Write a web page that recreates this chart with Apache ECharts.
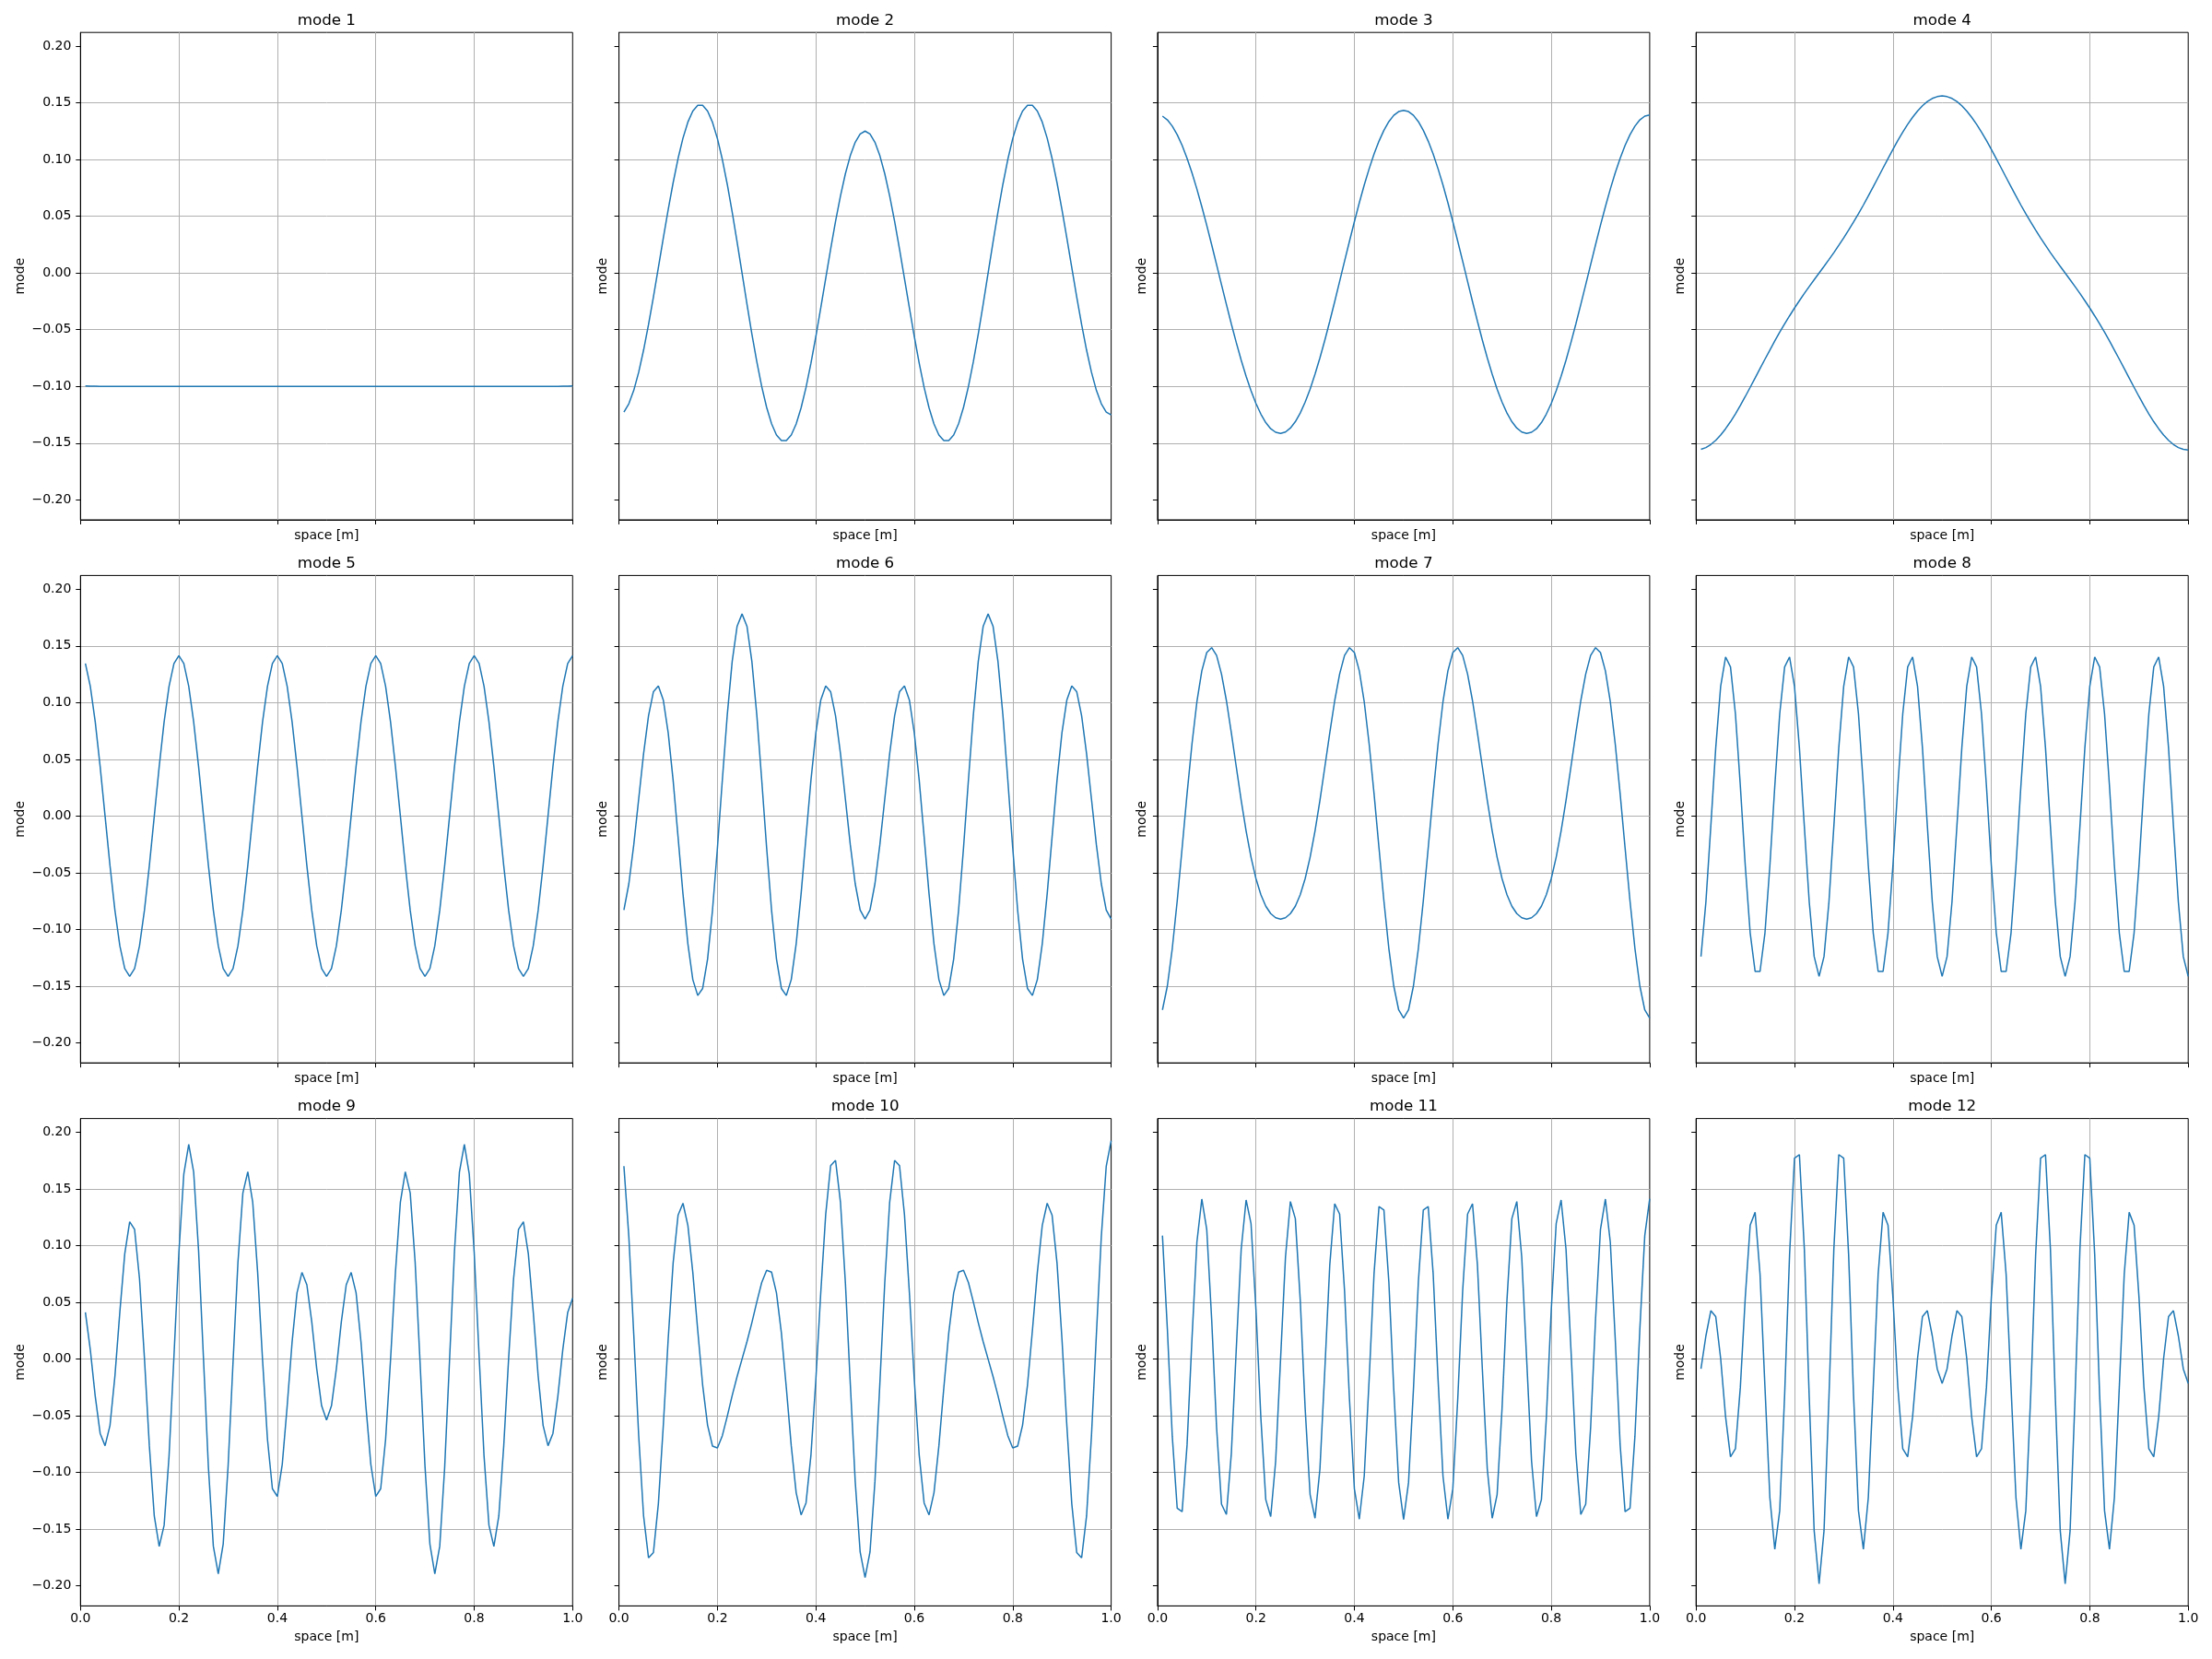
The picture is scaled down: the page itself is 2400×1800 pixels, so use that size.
<!DOCTYPE html>
<html><head><meta charset="utf-8">
<script src="https://cdn.jsdelivr.net/npm/echarts@6/dist/echarts.min.js"></script>
<style>html,body{margin:0;padding:0;background:#fff}#c{width:2400px;height:1800px}</style>
</head><body><div id="c"></div>
<script>
const xs = [
0.01,0.02,0.03,0.04,0.05,0.06,0.07,0.08,0.09,0.10,
0.11,0.12,0.13,0.14,0.15,0.16,0.17,0.18,0.19,0.20,
0.21,0.22,0.23,0.24,0.25,0.26,0.27,0.28,0.29,0.30,
0.31,0.32,0.33,0.34,0.35,0.36,0.37,0.38,0.39,0.40,
0.41,0.42,0.43,0.44,0.45,0.46,0.47,0.48,0.49,0.50,
0.51,0.52,0.53,0.54,0.55,0.56,0.57,0.58,0.59,0.60,
0.61,0.62,0.63,0.64,0.65,0.66,0.67,0.68,0.69,0.70,
0.71,0.72,0.73,0.74,0.75,0.76,0.77,0.78,0.79,0.80,
0.81,0.82,0.83,0.84,0.85,0.86,0.87,0.88,0.89,0.90,
0.91,0.92,0.93,0.94,0.95,0.96,0.97,0.98,0.99,1.00];

const mode1 = [
-0.0995,-0.0997,-0.0998,-0.0999,-0.1,-0.1,-0.1,-0.1,-0.1,-0.1,
-0.1,-0.1,-0.1,-0.1,-0.1,-0.1,-0.1,-0.1,-0.1,-0.1,
-0.1,-0.1,-0.1,-0.1,-0.1,-0.1,-0.1,-0.1,-0.1,-0.1,
-0.1,-0.1,-0.1,-0.1,-0.1,-0.1,-0.1,-0.1,-0.1,-0.1,
-0.1,-0.1,-0.1,-0.1,-0.1,-0.1,-0.1,-0.1,-0.1,-0.1,
-0.1,-0.1,-0.1,-0.1,-0.1,-0.1,-0.1,-0.1,-0.1,-0.1,
-0.1,-0.1,-0.1,-0.1,-0.1,-0.1,-0.1,-0.1,-0.1,-0.1,
-0.1,-0.1,-0.1,-0.1,-0.1,-0.1,-0.1,-0.1,-0.1,-0.1,
-0.1,-0.1,-0.1,-0.1,-0.1,-0.1,-0.1,-0.1,-0.1,-0.1,
-0.1,-0.1,-0.1,-0.1,-0.1,-0.1,-0.0999,-0.0998,-0.0997,-0.0995];

const mode2 = [
-0.1226,-0.1153,-0.1035,-0.0875,-0.0679,-0.0455,-0.0210,0.0048,0.0307,0.0559,
0.0796,0.1009,0.1189,0.1331,0.1428,0.1478,0.1478,0.1428,0.1329,0.1185,
0.1001,0.0782,0.0537,0.0273,0,-0.0273,-0.0537,-0.0782,-0.1001,-0.1185,
-0.1329,-0.1428,-0.1478,-0.1478,-0.1428,-0.1331,-0.1189,-0.1009,-0.0796,-0.0559,
-0.0307,-0.0048,0.0210,0.0455,0.0679,0.0875,0.1035,0.1153,0.1226,0.1251,
0.1226,0.1153,0.1035,0.0875,0.0679,0.0455,0.0210,-0.0048,-0.0307,-0.0559,
-0.0796,-0.1009,-0.1189,-0.1331,-0.1428,-0.1478,-0.1478,-0.1428,-0.1329,-0.1185,
-0.1001,-0.0782,-0.0537,-0.0273,0,0.0273,0.0537,0.0782,0.1001,0.1185,
0.1329,0.1428,0.1478,0.1478,0.1428,0.1331,0.1189,0.1009,0.0796,0.0559,
0.0307,0.0048,-0.0210,-0.0455,-0.0679,-0.0875,-0.1035,-0.1153,-0.1226,-0.1251];

const mode3 = [
0.1383,0.1350,0.1295,0.1220,0.1125,0.1012,0.0883,0.0740,0.0585,0.0421,
0.0250,0.0074,-0.0103,-0.0278,-0.0449,-0.0613,-0.0768,-0.0910,-0.1038,-0.1150,
-0.1244,-0.1319,-0.1373,-0.1404,-0.1414,-0.1402,-0.1367,-0.1311,-0.1234,-0.1138,
-0.1024,-0.0892,-0.0748,-0.0591,-0.0425,-0.0252,-0.0075,0.0104,0.0280,0.0453,
0.0619,0.0776,0.0919,0.1050,0.1163,0.1258,0.1335,0.1390,0.1423,0.1434,
0.1423,0.1390,0.1335,0.1258,0.1163,0.1050,0.0919,0.0776,0.0619,0.0453,
0.0280,0.0104,-0.0075,-0.0252,-0.0425,-0.0591,-0.0748,-0.0892,-0.1024,-0.1138,
-0.1234,-0.1311,-0.1367,-0.1402,-0.1414,-0.1404,-0.1373,-0.1319,-0.1244,-0.1150,
-0.1038,-0.0910,-0.0768,-0.0613,-0.0449,-0.0278,-0.0103,0.0074,0.0250,0.0421,
0.0585,0.0740,0.0883,0.1012,0.1125,0.1220,0.1295,0.1350,0.1383,0.1394];

const mode4 = [
-0.1555,-0.1539,-0.1512,-0.1475,-0.1428,-0.1373,-0.1311,-0.1242,-0.1168,-0.1089,
-0.1008,-0.0926,-0.0843,-0.0760,-0.0679,-0.0599,-0.0522,-0.0449,-0.0378,-0.0309,
-0.0244,-0.0180,-0.0119,-0.0059,0,0.0059,0.0119,0.0180,0.0244,0.0309,
0.0378,0.0449,0.0522,0.0599,0.0679,0.0760,0.0843,0.0926,0.1008,0.1089,
0.1168,0.1242,0.1311,0.1373,0.1428,0.1475,0.1512,0.1539,0.1555,0.1561,
0.1555,0.1539,0.1512,0.1475,0.1428,0.1373,0.1311,0.1242,0.1168,0.1089,
0.1008,0.0926,0.0843,0.0760,0.0679,0.0599,0.0522,0.0449,0.0378,0.0309,
0.0244,0.0180,0.0119,0.0059,0,-0.0059,-0.0119,-0.0180,-0.0244,-0.0309,
-0.0378,-0.0449,-0.0522,-0.0599,-0.0679,-0.0760,-0.0843,-0.0926,-0.1008,-0.1089,
-0.1168,-0.1242,-0.1311,-0.1373,-0.1428,-0.1475,-0.1512,-0.1539,-0.1555,-0.1561];

const mode5 = [
0.1345,0.1144,0.0831,0.0437,0,-0.0437,-0.0831,-0.1144,-0.1345,-0.1414,
-0.1345,-0.1144,-0.0831,-0.0437,0,0.0437,0.0831,0.1144,0.1345,0.1414,
0.1345,0.1144,0.0831,0.0437,0,-0.0437,-0.0831,-0.1144,-0.1345,-0.1414,
-0.1345,-0.1144,-0.0831,-0.0437,0,0.0437,0.0831,0.1144,0.1345,0.1414,
0.1345,0.1144,0.0831,0.0437,0,-0.0437,-0.0831,-0.1144,-0.1345,-0.1414,
-0.1345,-0.1144,-0.0831,-0.0437,0,0.0437,0.0831,0.1144,0.1345,0.1414,
0.1345,0.1144,0.0831,0.0437,0,-0.0437,-0.0831,-0.1144,-0.1345,-0.1414,
-0.1345,-0.1144,-0.0831,-0.0437,0,0.0437,0.0831,0.1144,0.1345,0.1414,
0.1345,0.1144,0.0831,0.0437,0,-0.0437,-0.0831,-0.1144,-0.1345,-0.1414,
-0.1345,-0.1144,-0.0831,-0.0437,0,0.0437,0.0831,0.1144,0.1345,0.1414];

const mode6 = [
-0.0828,-0.0598,-0.0254,0.0150,0.0551,0.0884,0.1097,0.1148,0.1024,0.0734,
0.0315,-0.0182,-0.0686,-0.1127,-0.1442,-0.1582,-0.1520,-0.1261,-0.0830,-0.0281,
0.0318,0.0892,0.1364,0.1674,0.1782,0.1674,0.1364,0.0892,0.0318,-0.0281,
-0.0830,-0.1261,-0.1520,-0.1582,-0.1442,-0.1127,-0.0686,-0.0182,0.0315,0.0734,
0.1024,0.1148,0.1097,0.0884,0.0551,0.0150,-0.0254,-0.0598,-0.0828,-0.0908,
-0.0828,-0.0598,-0.0254,0.0150,0.0551,0.0884,0.1097,0.1148,0.1024,0.0734,
0.0315,-0.0182,-0.0686,-0.1127,-0.1442,-0.1582,-0.1520,-0.1261,-0.0830,-0.0281,
0.0318,0.0892,0.1364,0.1674,0.1782,0.1674,0.1364,0.0892,0.0318,-0.0281,
-0.0830,-0.1261,-0.1520,-0.1582,-0.1442,-0.1127,-0.0686,-0.0182,0.0315,0.0734,
0.1024,0.1148,0.1097,0.0884,0.0551,0.0150,-0.0254,-0.0598,-0.0828,-0.0908];

const mode7 = [
-0.1709,-0.1498,-0.1167,-0.0748,-0.0281,0.0195,0.0635,0.1007,0.1280,0.1442,
0.1485,0.1416,0.1252,0.1017,0.0734,0.0434,0.0139,-0.0131,-0.0363,-0.0551,
-0.0694,-0.0795,-0.0860,-0.0897,-0.0908,-0.0897,-0.0860,-0.0795,-0.0694,-0.0551,
-0.0363,-0.0131,0.0139,0.0434,0.0734,0.1017,0.1252,0.1416,0.1485,0.1442,
0.1280,0.1007,0.0635,0.0195,-0.0281,-0.0748,-0.1167,-0.1498,-0.1709,-0.1782,
-0.1709,-0.1498,-0.1167,-0.0748,-0.0281,0.0195,0.0635,0.1007,0.1280,0.1442,
0.1485,0.1416,0.1252,0.1017,0.0734,0.0434,0.0139,-0.0131,-0.0363,-0.0551,
-0.0694,-0.0795,-0.0860,-0.0897,-0.0908,-0.0897,-0.0860,-0.0795,-0.0694,-0.0551,
-0.0363,-0.0131,0.0139,0.0434,0.0734,0.1017,0.1252,0.1416,0.1485,0.1442,
0.1280,0.1007,0.0635,0.0195,-0.0281,-0.0748,-0.1167,-0.1498,-0.1709,-0.1782];

const mode8 = [
-0.1239,-0.0758,-0.0089,0.0602,0.1144,0.1403,0.1315,0.0901,0.0265,-0.0437,
-0.1031,-0.1370,-0.1370,-0.1031,-0.0437,0.0265,0.0901,0.1315,0.1403,0.1144,
0.0602,-0.0089,-0.0758,-0.1239,-0.1414,
-0.1239,-0.0758,-0.0089,0.0602,0.1144,0.1403,0.1315,0.0901,0.0265,-0.0437,
-0.1031,-0.1370,-0.1370,-0.1031,-0.0437,0.0265,0.0901,0.1315,0.1403,0.1144,
0.0602,-0.0089,-0.0758,-0.1239,-0.1414,
-0.1239,-0.0758,-0.0089,0.0602,0.1144,0.1403,0.1315,0.0901,0.0265,-0.0437,
-0.1031,-0.1370,-0.1370,-0.1031,-0.0437,0.0265,0.0901,0.1315,0.1403,0.1144,
0.0602,-0.0089,-0.0758,-0.1239,-0.1414,
-0.1239,-0.0758,-0.0089,0.0602,0.1144,0.1403,0.1315,0.0901,0.0265,-0.0437,
-0.1031,-0.1370,-0.1370,-0.1031,-0.0437,0.0265,0.0901,0.1315,0.1403,0.1144,
0.0602,-0.0089,-0.0758,-0.1239,-0.1414];

const mode9 = [
0.0412,0.0083,-0.0327,-0.0655,-0.0764,-0.0585,-0.0150,0.0414,0.0928,0.1211,
0.1143,0.0708,0.0008,-0.0766,-0.1384,-0.1652,-0.1465,-0.0854,0.0028,0.0942,
0.1631,0.1894,0.1650,0.0956,0,-0.0956,-0.1650,-0.1894,-0.1631,-0.0942,
-0.0028,0.0854,0.1465,0.1652,0.1384,0.0766,-0.0008,-0.0708,-0.1143,-0.1211,
-0.0928,-0.0414,0.0150,0.0585,0.0764,0.0655,0.0327,-0.0083,-0.0412,-0.0538,
-0.0412,-0.0083,0.0327,0.0655,0.0764,0.0585,0.0150,-0.0414,-0.0928,-0.1211,
-0.1143,-0.0708,-0.0008,0.0766,0.1384,0.1652,0.1465,0.0854,-0.0028,-0.0942,
-0.1631,-0.1894,-0.1650,-0.0956,0,0.0956,0.1650,0.1894,0.1631,0.0942,
0.0028,-0.0854,-0.1465,-0.1652,-0.1384,-0.0766,0.0008,0.0708,0.1143,0.1211,
0.0928,0.0414,-0.0150,-0.0585,-0.0764,-0.0655,-0.0327,0.0083,0.0412,0.0538];

const mode10 = [
0.1701,0.1081,0.0219,-0.0673,-0.1384,-0.1752,-0.1705,-0.1276,-0.0588,0.0180,
0.0847,0.1268,0.1374,0.1178,0.0764,0.0253,-0.0229,-0.0583,-0.0767,-0.0783,
-0.0675,-0.0504,-0.0321,-0.0153,0,0.0153,0.0321,0.0504,0.0675,0.0783,
0.0767,0.0583,0.0229,-0.0253,-0.0764,-0.1178,-0.1374,-0.1268,-0.0847,-0.0180,
0.0588,0.1276,0.1705,0.1752,0.1384,0.0673,-0.0219,-0.1081,-0.1701,-0.1926,
-0.1701,-0.1081,-0.0219,0.0673,0.1384,0.1752,0.1705,0.1276,0.0588,-0.0180,
-0.0847,-0.1268,-0.1374,-0.1178,-0.0764,-0.0253,0.0229,0.0583,0.0767,0.0783,
0.0675,0.0504,0.0321,0.0153,0,-0.0153,-0.0321,-0.0504,-0.0675,-0.0783,
-0.0767,-0.0583,-0.0229,0.0253,0.0764,0.1178,0.1374,0.1268,0.0847,0.0180,
-0.0588,-0.1276,-0.1705,-0.1752,-0.1384,-0.0673,0.0219,0.1081,0.1701,0.1926];

const mode11 = [
0.1089,0.0265,-0.0681,-0.1315,-0.1345,-0.0758,0.0177,0.1031,0.1411,0.1144,
0.0352,-0.0602,-0.1279,-0.1370,-0.0831,0.0089,0.0968,0.1403,0.1194,0.0437,
-0.0520,-0.1239,-0.1389,-0.0901,0,0.0901,0.1389,0.1239,0.0520,-0.0437,
-0.1194,-0.1403,-0.0968,-0.0089,0.0831,0.1370,0.1279,0.0602,-0.0352,-0.1144,
-0.1411,-0.1031,-0.0177,0.0758,0.1345,0.1315,0.0681,-0.0265,-0.1089,-0.1414,
-0.1089,-0.0265,0.0681,0.1315,0.1345,0.0758,-0.0177,-0.1031,-0.1411,-0.1144,
-0.0352,0.0602,0.1279,0.1370,0.0831,-0.0089,-0.0968,-0.1403,-0.1194,-0.0437,
0.0520,0.1239,0.1389,0.0901,0,-0.0901,-0.1389,-0.1239,-0.0520,0.0437,
0.1194,0.1403,0.0968,0.0089,-0.0831,-0.1370,-0.1279,-0.0602,0.0352,0.1144,
0.1411,0.1031,0.0177,-0.0758,-0.1345,-0.1315,-0.0681,0.0265,0.1089,0.1414];

const mode12 = [
-0.0086,0.0204,0.0427,0.0375,0.0005,-0.0508,-0.0861,-0.0791,-0.0248,0.0544,
0.1182,0.1294,0.0748,-0.0246,-0.1222,-0.1676,-0.1337,-0.0315,0.0920,0.1771,
0.1803,0.0973,-0.0342,-0.1514,-0.1981,-0.1514,-0.0342,0.0973,0.1803,0.1771,
0.0920,-0.0315,-0.1337,-0.1676,-0.1222,-0.0246,0.0748,0.1294,0.1182,0.0544,
-0.0248,-0.0791,-0.0861,-0.0508,0.0005,0.0375,0.0427,0.0204,-0.0086,-0.0215,
-0.0086,0.0204,0.0427,0.0375,0.0005,-0.0508,-0.0861,-0.0791,-0.0248,0.0544,
0.1182,0.1294,0.0748,-0.0246,-0.1222,-0.1676,-0.1337,-0.0315,0.0920,0.1771,
0.1803,0.0973,-0.0342,-0.1514,-0.1981,-0.1514,-0.0342,0.0973,0.1803,0.1771,
0.0920,-0.0315,-0.1337,-0.1676,-0.1222,-0.0246,0.0748,0.1294,0.1182,0.0544,
-0.0248,-0.0791,-0.0861,-0.0508,0.0005,0.0375,0.0427,0.0204,-0.0086,-0.0215];

const titles = ['mode 1','mode 2','mode 3','mode 4','mode 5','mode 6','mode 7','mode 8','mode 9','mode 10','mode 11','mode 12'];
const yTicks = [-0.2,-0.15,-0.1,-0.05,0,0.05,0.1,0.15,0.2];
const xTicks = [0,0.2,0.4,0.6,0.8,1.0];
const Y_MIN = -0.2176, Y_MAX = 0.2121;

const modes = [mode1,mode2,mode3,mode4,mode5,mode6,mode7,mode8,mode9,mode10,mode11,mode12];
const FONT = 'DejaVu Sans';
const chart = echarts.init(document.getElementById('c'), null, {renderer:'canvas', width:2400, height:1800});

const grids=[], xAxes=[], yAxes=[], series=[], titleOpts=[];
const W = 534, H = 528.8;
for (let i = 0; i < 12; i++) {
  const r = Math.floor(i / 4), c = i % 4;
  const left = 87.3 + c * 584.3, top = 35.2 + r * 589.2;
  grids.push({left: left, top: top, width: W, height: H, show: true, borderColor: '#000', borderWidth: 1,
    backgroundColor: 'transparent', containLabel: false, outerBoundsMode: 'none'});
  titleOpts.push({text: titles[i], left: left + W / 2, top: top - 21, textAlign: 'center', padding: 0,
    textStyle: {fontSize: 16.7, fontWeight: 'normal', color: '#000', fontFamily: FONT}});
  xAxes.push({
    gridIndex: i, type: 'value', min: 0, max: 1, interval: 0.2,
    name: 'space [m]', nameLocation: 'middle', nameGap: r === 2 ? 27 : 10,
    nameTextStyle: {fontSize: 14, color: '#000', fontFamily: FONT},
    axisLine: {show: true, onZero: false, lineStyle: {color: '#000', width: 1}},
    axisTick: {show: true, inside: false, length: 5, lineStyle: {color: '#000', width: 1}},
    axisLabel: {show: r === 2, margin: 7, color: '#000', fontSize: 14, fontFamily: FONT,
      showMinLabel: true, showMaxLabel: true,
      formatter: function (v) { return v.toFixed(1); }},
    splitLine: {show: true, showMinLine: false, showMaxLine: false, lineStyle: {color: '#b0b0b0', width: 1}}
  });
  yAxes.push({
    gridIndex: i, type: 'value', min: Y_MIN, max: Y_MAX, splitNumber: 9,
    name: 'mode', nameLocation: 'middle', nameRotate: 90, nameGap: c === 0 ? 58 : 10,
    nameTextStyle: {fontSize: 14, color: '#000', fontFamily: FONT},
    axisLine: {show: true, onZero: false, lineStyle: {color: '#000', width: 1}},
    axisTick: {show: true, inside: false, length: 5, customValues: yTicks, lineStyle: {color: '#000', width: 1}},
    axisLabel: {show: c === 0, margin: 10, color: '#000', fontSize: 14, fontFamily: FONT, customValues: yTicks,
      formatter: function (v) { return (v < -1e-9 ? '\u2212' : '') + Math.abs(v).toFixed(2); }},
    splitLine: {show: true, showMinLine: false, showMaxLine: false, lineStyle: {color: '#b0b0b0', width: 1}}
  });
  series.push({
    type: 'line', xAxisIndex: i, yAxisIndex: i,
    data: xs.map(function (x, j) { return [x, modes[i][j]]; }),
    showSymbol: false, symbol: 'none', smooth: false, clip: true,
    lineStyle: {color: '#1f77b4', width: 1.5}, itemStyle: {color: '#1f77b4'},
    animation: false
  });
}

chart.setOption({
  backgroundColor: '#fff',
  animation: false,
  textStyle: {fontFamily: FONT},
  title: titleOpts,
  grid: grids,
  xAxis: xAxes,
  yAxis: yAxes,
  series: series
});
</script>
</body></html>
